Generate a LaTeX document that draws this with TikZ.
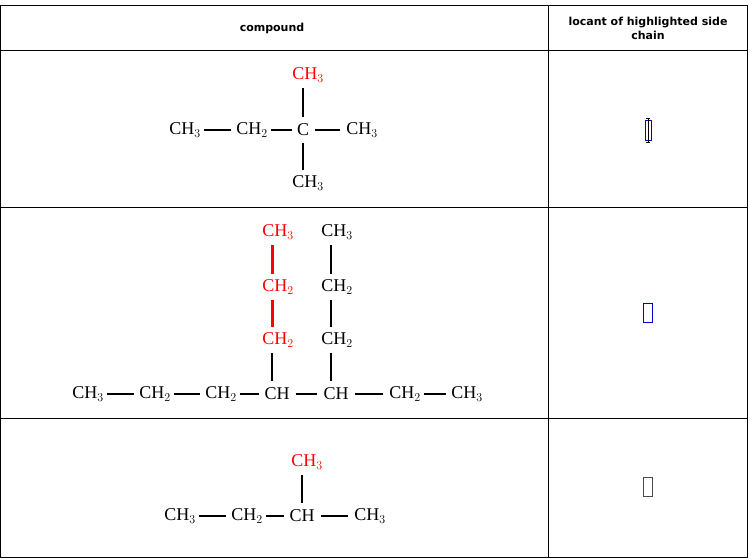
\documentclass[tikz,border=0pt]{standalone}
\usepackage{fontspec}
\setmainfont{Liberation Serif}
\newfontfamily\hdr{DejaVu Sans}
\begin{document}
\begin{tikzpicture}[x=1pt,y=-1pt,
  atom/.style={inner sep=0pt,font=\fontsize{18}{18}\selectfont},
  red atom/.style={atom,text=red},
  bond/.style={line width=1.2pt,line cap=butt},
  rbond/.style={line width=3pt,red},
  hd/.style={font=\hdr\bfseries\fontsize{11}{14}\selectfont,align=center}]
\useasboundingbox (0,0) rectangle (749,557);
\draw[line width=1pt] (0.5,5) rectangle (747,557);
\draw[line width=1pt] (548,5) -- (548,557);
\foreach \y in {50,207,418} \draw[line width=1pt] (0.5,\y) -- (747,\y);
\node[hd] (h1) at (272,28) {compound};
\node[hd] (h2) at (648,28) {locant of highlighted side\\chain};
% row 1
\node[red atom] (a1) at (308,75) {CH$_3$};
\node[atom] (a2) at (185,130) {CH$_3$};
\node[atom] (a3) at (252,130) {CH$_2$};
\node[atom] (a4) at (303,130) {C};
\node[atom] (a5) at (362,130) {CH$_3$};
\node[atom] (a6) at (308,183) {CH$_3$};
\draw[bond] ([yshift=-6]a1.south -| a4) -- ([yshift=7]a4.north);
\draw[bond] ([yshift=-7]a4.south) -- ([yshift=6]a6.north -| a4);
\draw[bond] ([xshift=3]a2.east) -- ([xshift=-5]a3.west);
\draw[bond] ([xshift=3]a3.east) -- ([xshift=-5]a4.west);
\draw[bond] ([xshift=6]a4.east) -- ([xshift=-6]a5.west);
% row 2
\node[red atom] (b1) at (278,232) {CH$_3$};
\node[red atom] (b2) at (278,287) {CH$_2$};
\node[red atom] (b3) at (278,340) {CH$_2$};
\node[atom] (c1) at (337,232) {CH$_3$};
\node[atom] (c2) at (337,287) {CH$_2$};
\node[atom] (c3) at (337,340) {CH$_2$};
\node[atom] (m1) at (88,394) {CH$_3$};
\node[atom] (m2) at (155,394) {CH$_2$};
\node[atom] (m3) at (221,394) {CH$_2$};
\node[atom] (m4) at (277,394) {CH};
\node[atom] (m5) at (336,394) {CH};
\node[atom] (m6) at (405,394) {CH$_2$};
\node[atom] (m7) at (467,394) {CH$_3$};
\coordinate (x1) at (272,0); \coordinate (x2) at (331,0);
\draw[rbond] ([yshift=-6]b1.south -| x1) -- ([yshift=6]b2.north -| x1);
\draw[rbond] ([yshift=-6]b2.south -| x1) -- ([yshift=6]b3.north -| x1);
\draw[bond] ([yshift=-6]b3.south -| x1) -- ([yshift=7]m4.north -| x1);
\draw[bond] ([yshift=-6]c1.south -| x2) -- ([yshift=6]c2.north -| x2);
\draw[bond] ([yshift=-6]c2.south -| x2) -- ([yshift=6]c3.north -| x2);
\draw[bond] ([yshift=-6]c3.south -| x2) -- ([yshift=7]m5.north -| x2);
\draw[bond] ([xshift=3]m1.east) -- ([xshift=-5]m2.west);
\draw[bond] ([xshift=3]m2.east) -- ([xshift=-5]m3.west);
\draw[bond] ([xshift=3]m3.east) -- ([xshift=-5]m4.west);
\draw[bond] ([xshift=6]m4.east) -- ([xshift=-6]m5.west);
\draw[bond] ([xshift=6]m5.east) -- ([xshift=-6]m6.west);
\draw[bond] ([xshift=3]m6.east) -- ([xshift=-5]m7.west);
% row 3
\node[red atom] (d1) at (307,462) {CH$_3$};
\node[atom] (d2) at (180,516) {CH$_3$};
\node[atom] (d3) at (247,516) {CH$_2$};
\node[atom] (d4) at (302,516) {CH};
\node[atom] (d5) at (370,516) {CH$_3$};
\draw[bond] ([yshift=-6]d1.south -| d4) -- ([yshift=7]d4.north);
\draw[bond] ([xshift=3]d2.east) -- ([xshift=-5]d3.west);
\draw[bond] ([xshift=3]d3.east) -- ([xshift=-5]d4.west);
\draw[bond] ([xshift=6]d4.east) -- ([xshift=-6]d5.west);
% answer boxes
\node[draw=blue!80!black,line width=0.8pt,minimum width=6pt,minimum height=20pt,inner sep=0pt] (e1) at (648,130) {};
\draw[line width=0.5pt] (646,118) -- (650,118) (648,118) -- (648,142) (646,142) -- (650,142);
\node[draw=blue!80!black,line width=0.8pt,minimum width=9pt,minimum height=19pt,inner sep=0pt] (e2) at (648,313) {};
\node[draw=black!70,line width=0.8pt,minimum width=9pt,minimum height=19pt,inner sep=0pt] (e3) at (648,487) {};
\end{tikzpicture}
\end{document}
